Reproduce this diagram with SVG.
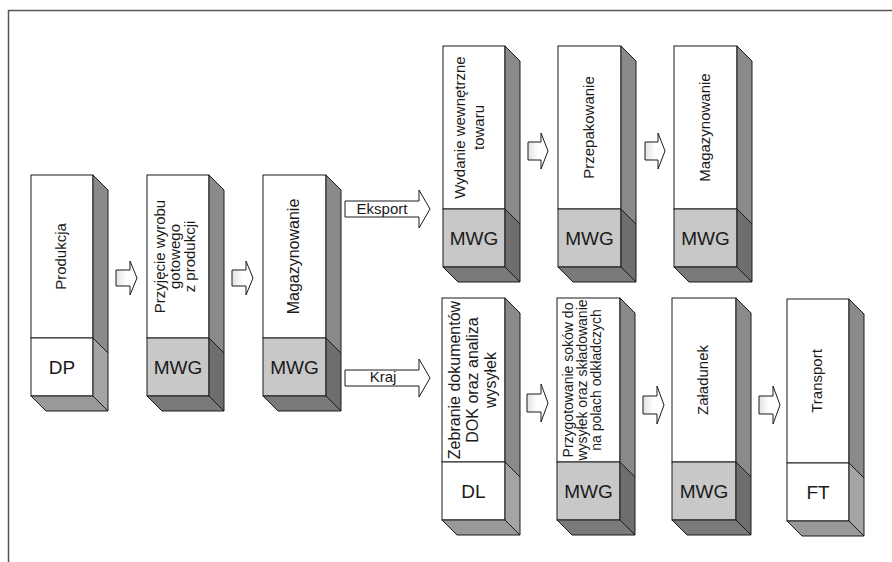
<svg xmlns="http://www.w3.org/2000/svg" width="892" height="562" viewBox="0 0 892 562">
<defs>
<linearGradient id="ag" x1="0" y1="0" x2="1" y2="0">
<stop offset="0" stop-color="#e2e2e2"/>
<stop offset="0.5" stop-color="#ffffff"/>
</linearGradient>
</defs>
<style>
.fr{fill:#fff;stroke:#1a1a1a;stroke-width:1}
.lw{fill:#fff;stroke:#1a1a1a;stroke-width:1}
.lg{fill:#c8c8c8;stroke:#1a1a1a;stroke-width:1}
.su{fill:#8a8a8a;stroke:#1a1a1a;stroke-width:1;stroke-linejoin:round}
.slw{fill:#a4a4a4;stroke:#1a1a1a;stroke-width:1;stroke-linejoin:round}
.slg{fill:#6e6e6e;stroke:#1a1a1a;stroke-width:1;stroke-linejoin:round}
.bw{fill:#999;stroke:#1a1a1a;stroke-width:1;stroke-linejoin:round}
.bg{fill:#7a7a7a;stroke:#1a1a1a;stroke-width:1;stroke-linejoin:round}
.t{font-family:"Liberation Sans",Arial,sans-serif;font-size:15px;fill:#1a1a1a;text-anchor:middle}
.lb{font-family:"Liberation Sans",Arial,sans-serif;font-size:19px;fill:#1a1a1a;text-anchor:middle}
.arr{fill:url(#ag);stroke:#1a1a1a;stroke-width:1;stroke-linejoin:miter}
.big{fill:#fff;stroke:#1a1a1a;stroke-width:1}
.frame{fill:none;stroke:#555;stroke-width:1.5}
</style>
<rect width="892" height="562" fill="#fff"/>
<path class="frame" d="M8.5,562 V10.5 H892"/>

<g id="produkcja">
<rect class="fr" x="31" y="175" width="62" height="163"/>
<rect class="lw" x="31" y="338" width="62" height="58"/>
<polygon class="su" points="93,175 108,190 108,353 93,338"/>
<polygon class="slw" points="93,338 108,353 108,411 93,396"/>
<polygon class="bw" points="31,396 93,396 108,411 46,411"/>
<text class="t" font-size="15" transform="translate(66,256.5) rotate(-90)">Produkcja</text>
<text class="lb" x="62" y="374">DP</text>
</g>

<g id="przyjecie">
<rect class="fr" x="147" y="175" width="62" height="163"/>
<rect class="lg" x="147" y="338" width="62" height="58"/>
<polygon class="su" points="209,175 224,190 224,353 209,338"/>
<polygon class="slg" points="209,338 224,353 224,411 209,396"/>
<polygon class="bg" points="147,396 209,396 224,411 162,411"/>
<text class="t" transform="translate(0,256.5) rotate(-90)"><tspan x="0" y="165">Przyjęcie wyrobu</tspan><tspan x="0" y="180">gotowego</tspan><tspan x="0" y="195">z produkcji</tspan></text>
<text class="lb" x="178" y="374">MWG</text>
</g>

<g id="magazynowanie1">
<rect class="fr" x="263" y="175" width="63" height="163"/>
<rect class="lg" x="263" y="338" width="63" height="58"/>
<polygon class="su" points="326,175 341,190 341,353 326,338"/>
<polygon class="slg" points="326,338 341,353 341,411 326,396"/>
<polygon class="bg" points="263,396 326,396 341,411 278,411"/>
<text class="t" font-size="16" style="font-size:16px" transform="translate(299,256.5) rotate(-90)">Magazynowanie</text>
<text class="lb" x="294.5" y="374">MWG</text>
</g>

<g id="wydanie">
<rect class="fr" x="443" y="46" width="62" height="163"/>
<rect class="lg" x="443" y="209" width="62" height="58"/>
<polygon class="su" points="505,46 520,61 520,224 505,209"/>
<polygon class="slg" points="505,209 520,224 520,282 505,267"/>
<polygon class="bg" points="443,267 505,267 520,282 458,282"/>
<text class="t" transform="translate(0,127.5) rotate(-90)"><tspan x="0" y="465">Wydanie wewnętrzne</tspan><tspan x="0" y="484">towaru</tspan></text>
<text class="lb" x="474" y="245">MWG</text>
</g>

<g id="przepakowanie">
<rect class="fr" x="558" y="46" width="63" height="163"/>
<rect class="lg" x="558" y="209" width="63" height="58"/>
<polygon class="su" points="621,46 636,61 636,224 621,209"/>
<polygon class="slg" points="621,209 636,224 636,282 621,267"/>
<polygon class="bg" points="558,267 621,267 636,282 573,282"/>
<text class="t" transform="translate(594,127.5) rotate(-90)">Przepakowanie</text>
<text class="lb" x="589.5" y="245">MWG</text>
</g>

<g id="magazynowanie2">
<rect class="fr" x="674" y="46" width="63" height="163"/>
<rect class="lg" x="674" y="209" width="63" height="58"/>
<polygon class="su" points="737,46 752,61 752,224 737,209"/>
<polygon class="slg" points="737,209 752,224 752,282 737,267"/>
<polygon class="bg" points="674,267 737,267 752,282 689,282"/>
<text class="t" transform="translate(710,127.5) rotate(-90)">Magazynowanie</text>
<text class="lb" x="705.5" y="245">MWG</text>
</g>

<g id="zebranie">
<rect class="fr" x="442" y="298" width="63" height="164"/>
<rect class="lw" x="442" y="462" width="63" height="58"/>
<polygon class="su" points="505,298 520,313 520,477 505,462"/>
<polygon class="slw" points="505,462 520,477 520,535 505,520"/>
<polygon class="bw" points="442,520 505,520 520,535 457,535"/>
<text class="t" style="font-size:16px" transform="translate(0,380) rotate(-90)"><tspan x="0" y="460">Zebranie dokumentów</tspan><tspan x="0" y="478">DOK oraz analiza</tspan><tspan x="0" y="496">wysyłek</tspan></text>
<text class="lb" x="473.5" y="498">DL</text>
</g>

<g id="przygotowanie">
<rect class="fr" x="557" y="298" width="63" height="164"/>
<rect class="lg" x="557" y="462" width="63" height="58"/>
<polygon class="su" points="620,298 635,313 635,477 620,462"/>
<polygon class="slg" points="620,462 635,477 635,535 620,520"/>
<polygon class="bg" points="557,520 620,520 635,535 572,535"/>
<text class="t" style="font-size:14px" transform="translate(0,380) rotate(-90)"><tspan x="0" y="573">Przygotowanie soków do</tspan><tspan x="0" y="587">wysyłek oraz składowanie</tspan><tspan x="0" y="601">na polach odkładczych</tspan></text>
<text class="lb" x="588.5" y="498">MWG</text>
</g>

<g id="zaladunek">
<rect class="fr" x="672" y="298" width="64" height="164"/>
<rect class="lg" x="672" y="462" width="64" height="58"/>
<polygon class="su" points="736,298 751,313 751,477 736,462"/>
<polygon class="slg" points="736,462 751,477 751,535 736,520"/>
<polygon class="bg" points="672,520 736,520 751,535 687,535"/>
<text class="t" transform="translate(708,380) rotate(-90)">Załadunek</text>
<text class="lb" x="704" y="498">MWG</text>
</g>

<g id="transport">
<rect class="fr" x="787" y="299" width="62" height="164"/>
<rect class="lw" x="787" y="463" width="62" height="58"/>
<polygon class="su" points="849,299 864,314 864,478 849,463"/>
<polygon class="slw" points="849,463 864,478 864,536 849,521"/>
<polygon class="bw" points="787,521 849,521 864,536 802,536"/>
<text class="t" transform="translate(822,381) rotate(-90)">Transport</text>
<text class="lb" x="818" y="499">FT</text>
</g>

<g id="connectors">
<path class="arr" d="M116,270 H130 V261 L137,278 L130,295 V286 H116 Z"/>
<path class="arr" d="M232,270 H246 V261 L253,278 L246,295 V286 H232 Z"/>
<path class="arr" d="M528,142 H541 V133 L548,151 L541,169 V160 H528 Z"/>
<path class="arr" d="M645,142 H658 V133 L665,151 L658,169 V160 H645 Z"/>
<path class="arr" d="M527,394 H541 V384 L548,403 L541,422 V412 H527 Z"/>
<path class="arr" d="M643,396 H657 V386 L664,405 L657,424 V414 H643 Z"/>
<path class="arr" d="M759,396 H773 V386 L780,405 L773,424 V414 H759 Z"/>
<path class="big" d="M345,201 H419 V190 L430,209 L419,228 V217 H345 Z"/>
<text class="t" style="font-size:15px" x="382" y="214">Eksport</text>
<path class="big" d="M345,370 H419 V359 L430,378 L419,397 V386 H345 Z"/>
<text class="t" style="font-size:15px" x="383" y="382">Kraj</text>
</g>
</svg>
